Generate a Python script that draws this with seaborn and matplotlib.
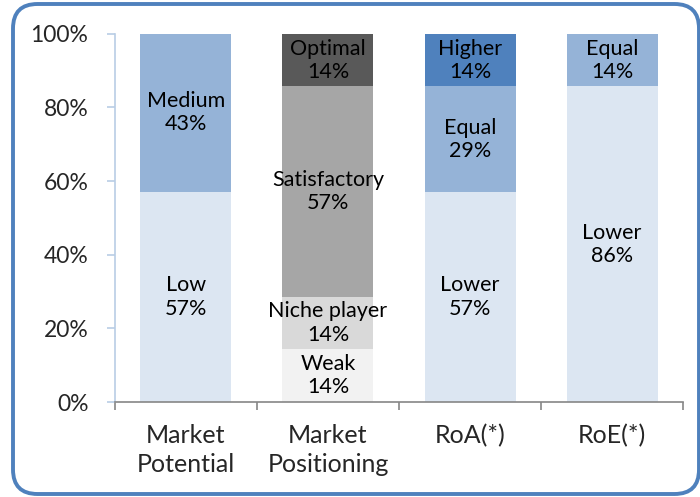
import matplotlib
matplotlib.use("Agg")
import matplotlib.pyplot as plt
import pandas as pd
import seaborn as sns
from matplotlib.patches import FancyBboxPatch

# categories on the x axis
categories = ["Market\nPotential", "Market\nPositioning", "RoA(*)", "RoE(*)"]

# stacked segments, bottom to top within each category
seg_category = [0, 0, 1, 1, 1, 1, 2, 2, 2, 3, 3]
seg_label = ["Low", "Medium",
             "Weak", "Niche player", "Satisfactory", "Optimal",
             "Lower", "Equal", "Higher",
             "Lower", "Equal"]
seg_value = [57.1, 42.9,
             14.3, 14.3, 57.1, 14.3,
             57.1, 28.6, 14.3,
             85.7, 14.3]

# segment colors by label
seg_colors = {
    'Low': '#dce6f2', 'Medium': '#95b3d7',
    'Weak': '#f2f2f2', 'Niche player': '#d9d9d9',
    'Satisfactory': '#a6a6a6', 'Optimal': '#595959',
    'Lower': '#dce6f2', 'Equal': '#95b3d7', 'Higher': '#4f81bd',
}

yticks = [0, 20, 40, 60, 80, 100]

sns.set_style("white")
plt.rcParams['font.family'] = ['Lato', 'DejaVu Sans']

df = pd.DataFrame({'cat': [categories[i] for i in seg_category],
                   'label': seg_label, 'value': seg_value})
df['bottom'] = df.groupby('cat', sort=False)['value'].cumsum() - df['value']

fig = plt.figure(figsize=(7, 4.97), dpi=100)
ax = fig.add_axes([0.164, 0.191, 0.812, 0.741])

for _, row in df.iterrows():
    sns.barplot(x=[row['cat']], y=[row['value']], bottom=row['bottom'],
                order=categories, color=seg_colors[row['label']],
                saturation=1, width=0.64, linewidth=0, ax=ax)
    xpos = categories.index(row['cat'])
    ax.text(xpos, row['bottom'] + row['value'] / 2,
            f"{row['label']}\n{row['value']:.0f}%",
            ha='center', va='center', fontsize=15.5, color='black',
            linespacing=1.2)

ax.set_ylim(0, 100)
ax.set_xlim(-0.5, 3.5)
ax.set_yticks(yticks)
ax.set_yticklabels([f"{t}%" for t in yticks], fontsize=16.5)
ax.set_xticks([0, 1, 2, 3])
ax.set_xticklabels(categories, fontsize=18, linespacing=1.3)
ax.set_xlabel("")
ax.set_ylabel("")

# x ticks sit between the categories
ax.set_xticks([-0.5, 0.5, 1.5, 2.5, 3.5], minor=True)
ax.tick_params(axis='x', which='major', length=0, pad=16)
ax.tick_params(axis='x', which='minor', length=6, color='#868686', width=1.2,
               direction='out', bottom=True)
ax.tick_params(axis='y', length=6, color='#b9cde5', width=1.2,
               direction='out', left=True, pad=13)

for side in ['top', 'right']:
    ax.spines[side].set_visible(False)
ax.spines['left'].set_color('#b9cde5')
ax.spines['left'].set_linewidth(1.2)
ax.spines['bottom'].set_color('#868686')
ax.spines['bottom'].set_linewidth(1.2)

# rounded frame around the chart
frame = FancyBboxPatch((13 / 700, 3 / 497), 686 / 700, 490 / 497,
                       boxstyle="round,pad=0,rounding_size=0.035",
                       transform=fig.transFigure, fill=False,
                       edgecolor='#4f81bd', linewidth=2.8, clip_on=False,
                       mutation_aspect=700 / 497)
fig.patches.append(frame)

fig.savefig("out.png", dpi=100)
